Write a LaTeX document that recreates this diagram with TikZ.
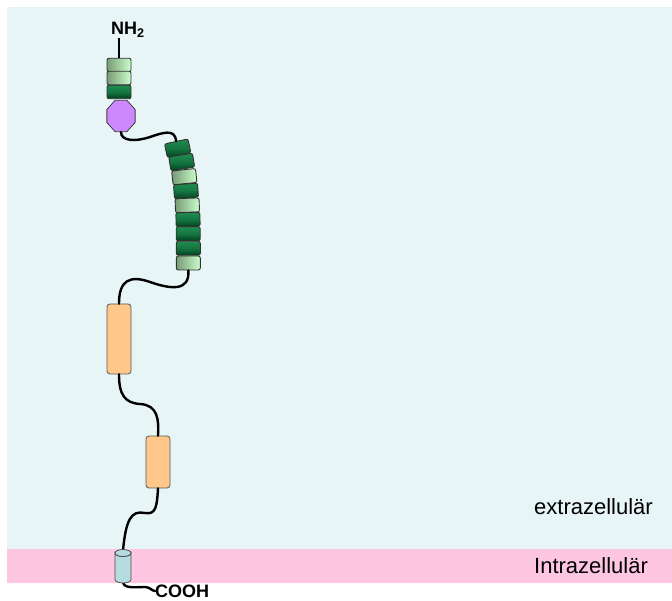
\documentclass[tikz,border=0pt]{standalone}
\usepackage{fontspec}
\setmainfont{Liberation Sans}
\usetikzlibrary{shapes.geometric}
\definecolor{bgblue}{RGB}{232,245,247}
\definecolor{bgpink}{RGB}{255,198,226}
\definecolor{orangebox}{RGB}{255,199,138}
\definecolor{violet}{RGB}{204,136,255}
\definecolor{cylfill}{RGB}{182,220,224}
\definecolor{dkgtop}{RGB}{30,140,80}
\definecolor{dkgbot}{RGB}{0,65,30}
\definecolor{ltgl}{RGB}{120,155,118}
\definecolor{ltgr}{RGB}{204,255,204}
\tikzset{
  seg/.style={rectangle, minimum width=24pt, minimum height=14pt, inner sep=0pt,
    rounded corners=2pt, draw=black!80, line width=0.9pt},
  darkseg/.style={seg, top color=dkgtop, bottom color=dkgbot, middle color=dkgtop!70!dkgbot},
  lightseg/.style={seg, left color=ltgl, right color=ltgr},
  obox/.style={rectangle, rounded corners=3pt, draw=black!65, line width=0.8pt,
    fill=orangebox, inner sep=0pt},
  chain/.style={line width=2.4pt, black, line cap=round},
  lbl/.style={font=\fontsize{22}{26}\selectfont, inner sep=0pt, anchor=west}
}
\begin{document}
\begin{tikzpicture}[x=1pt,y=-1pt]
\useasboundingbox (0,0) rectangle (672,601);
% background
\fill[bgblue] (7,7) rectangle (672,549);
\fill[bgpink] (7,549) rectangle (672,583);
% labels
\node[lbl] (extra) at (534,507) {extrazellulär};
\node[lbl] (intra) at (534,566) {Intrazellulär};
% N-terminal stack
\node[lightseg, minimum height=13.5pt] (t1) at (119,65) {};
\node[lightseg, minimum height=13.5pt] (t2) at (119,78) {};
\node[darkseg, minimum height=13.5pt] (t3) at (119,92) {};
\node[regular polygon, regular polygon sides=8, minimum size=34pt, inner sep=0pt, xscale=0.9,
  draw=black!75, line width=0.8pt, fill=violet] (oct) at (121,116) {};
\node[inner sep=0pt, anchor=south west, font=\fontsize{18}{20}\selectfont\bfseries] (nh) at (111,38) {NH\textsubscript{2}};
\draw[line width=1.6pt] (t1.north) -- (t1.north |- nh.south);
% green stack
\node[darkseg, rotate=12] (g1) at (177.7,148.3) {};
\node[darkseg, rotate=9] (g2) at (181.7,162) {};
\node[lightseg, rotate=6] (g3) at (184.3,176.7) {};
\node[darkseg, rotate=4] (g4) at (186,191) {};
\node[lightseg, rotate=2] (g5) at (187.3,205.3) {};
\node[darkseg, rotate=1] (g6) at (188,219.5) {};
\node[darkseg] (g7) at (188.2,233.8) {};
\node[darkseg] (g8) at (188.3,248.3) {};
\node[lightseg] (g9) at (188.3,263) {};
% orange boxes
\node[obox, minimum width=24pt, minimum height=70pt] (b1) at (119,339) {};
\node[obox, minimum width=24pt, minimum height=52pt] (b2) at (158,462) {};
% cylinder anchors
\coordinate (cyltop) at (123,550);
\coordinate (cylbot) at (123,582);
\node[inner sep=0pt, anchor=west, font=\fontsize{18}{20}\selectfont\bfseries] (cooh) at (155,591) {COOH};
% chain
\draw[chain] (oct.south) .. controls (121,141) and (135,142) .. (150,137)
  .. controls (162,133) and (175,128) .. (g1.north);
\draw[chain] (g9.south) .. controls (190,292) and (170,289) .. (150,282)
  .. controls (130,275) and (119,280) .. (b1.north);
\draw[chain] (b1.south) .. controls (119,395) and (125,403) .. (140,404)
  .. controls (158,405) and (159,420) .. (b2.north);
\draw[chain] (b2.south) .. controls (157,506) and (156,515) .. (145,513)
  .. controls (131,510) and (126,520) .. (cyltop);
\draw[chain] (cylbot) .. controls (124,589) and (135,587) .. (145,587)
  .. controls (150,587) and (152,591) .. (cooh.west);
% cylinder
\filldraw[fill=cylfill, draw=black!70, line width=0.8pt]
  (115,553) -- (115,579.5) arc[start angle=180, end angle=0, x radius=8, y radius=3.5]
  -- (131,553) arc[start angle=0, end angle=180, x radius=8, y radius=3.5] -- cycle;
\draw[fill=cylfill, draw=black!70, line width=0.8pt] (123,553) ellipse[x radius=8, y radius=3.5];
\end{tikzpicture}
\end{document}
